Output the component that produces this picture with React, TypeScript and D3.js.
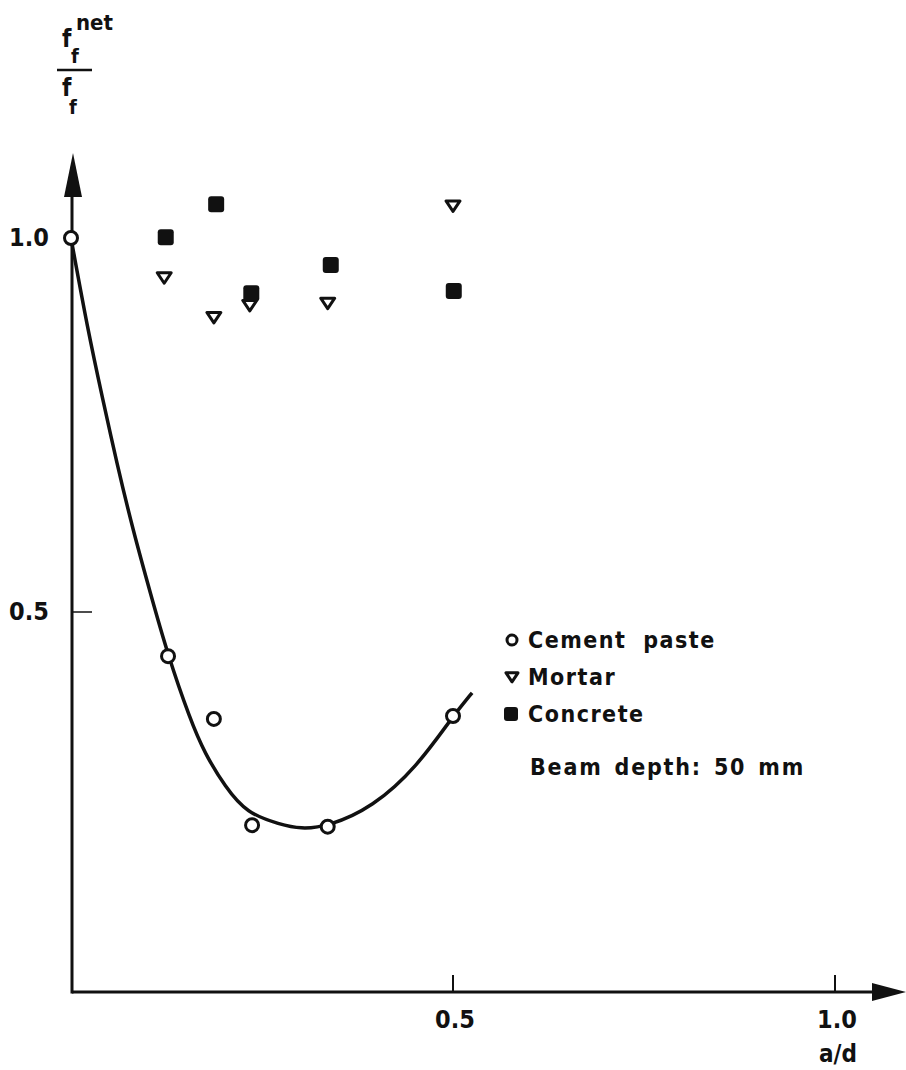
import { scaleLinear, line, curveBasis } from 'd3'

// a/d positions and f_f^net / f_f ratios
const PASTE_AD = [0, 0.127, 0.187, 0.237, 0.336, 0.5]
const PASTE_R = [1.0, 0.441, 0.357, 0.215, 0.213, 0.361]

const MORTAR_AD = [0.122, 0.187, 0.234, 0.336, 0.5]
const MORTAR_R = [0.947, 0.894, 0.91, 0.913, 1.043]

const CONCRETE_AD = [0.124, 0.19, 0.236, 0.34, 0.501]
const CONCRETE_R = [1.001, 1.045, 0.926, 0.964, 0.929]

// hand-drawn fit through the cement paste results
const FIT_AD = [0, 0.022, 0.041, 0.06, 0.081, 0.104, 0.126, 0.156, 0.175, 0.202, 0.23, 0.274, 0.3, 0.336, 0.395, 0.453, 0.5, 0.525]
const FIT_R = [1.0, 0.877, 0.787, 0.699, 0.61, 0.525, 0.445, 0.356, 0.311, 0.266, 0.231, 0.216, 0.21, 0.213, 0.239, 0.293, 0.361, 0.392]

const X_TICKS = [0.5, 1.0]
const Y_TICKS = [0.5, 1.0]
const LEGEND = ['Cement paste', 'Mortar', 'Concrete']

const W = 906
const H = 1070
const AX_X = 72
const AX_Y = 992
const FONT = '"DejaVu Sans Condensed", "DejaVu Sans", sans-serif'
const INK = '#111'

const x = scaleLinear().domain([0, 1]).range([71, 835])
const y = scaleLinear().domain([0, 1]).range([986, 238])

const tri = (cx: number, cy: number, s: number) =>
  `M${cx - s},${cy - s * 0.7}L${cx + s},${cy - s * 0.7}L${cx},${cy + s * 0.8}Z`

function Circle({ cx, cy, r }: { cx: number; cy: number; r: number }) {
  return <circle cx={cx} cy={cy} r={r} fill="#fff" stroke={INK} strokeWidth={3} />
}

function Tri({ cx, cy, s }: { cx: number; cy: number; s: number }) {
  return <path d={tri(cx, cy, s)} fill="#fff" stroke={INK} strokeWidth={3} strokeLinejoin="round" />
}

function Square({ cx, cy, s }: { cx: number; cy: number; s: number }) {
  return <rect x={cx - s / 2} y={cy - s / 2} width={s} height={s} rx={3} fill={INK} />
}

export default function App() {
  const fit = line<number>()
    .x((d) => x(d))
    .y((_, i) => y(FIT_R[i]))
    .curve(curveBasis)(FIT_AD)

  const legX = 512
  const legY = [640, 677, 714]

  return (
    <div style={{ position: 'absolute', left: 0, top: 0 }}>
      <svg width={W} height={H} viewBox={`0 0 ${W} ${H}`} style={{ display: 'block', background: '#fff' }}>
        {/* axes */}
        <line x1={AX_X} y1={AX_Y} x2={880} y2={AX_Y} stroke={INK} strokeWidth={3} />
        <path d={`M${W},${AX_Y}L${872},${AX_Y - 9}L${872},${AX_Y + 9}Z`} fill={INK} />
        <line x1={AX_X} y1={AX_Y + 1.5} x2={AX_X} y2={190} stroke={INK} strokeWidth={3} />
        <path d={`M${AX_X + 1},153L${AX_X + 10},197L${AX_X - 8},197Z`} fill={INK} />

        {X_TICKS.map((t) => (
          <g key={t}>
            <line x1={x(t)} y1={AX_Y} x2={x(t)} y2={AX_Y - 17} stroke={INK} strokeWidth={2} />
            <text x={x(t) + 2} y={1028} textAnchor="middle" fontFamily={FONT} fontWeight="bold" fontSize={25} fill={INK}>
              {t.toFixed(1)}
            </text>
          </g>
        ))}
        <text x={838} y={1062} textAnchor="middle" fontFamily={FONT} fontWeight="bold" fontSize={24} fill={INK}>
          a/d
        </text>

        {Y_TICKS.map((t) => (
          <g key={t}>
            {t !== 1 && <line x1={AX_X} y1={y(t)} x2={AX_X + 20} y2={y(t)} stroke={INK} strokeWidth={1.5} />}
            <text x={29} y={y(t) + 8} textAnchor="middle" fontFamily={FONT} fontWeight="bold" fontSize={25} fill={INK}>
              {t.toFixed(1)}
            </text>
          </g>
        ))}

        {/* y label: f_f^net / f_f */}
        <g fontFamily={FONT} fontWeight="bold" fill={INK}>
          <text x={62} y={47} fontSize={24}>f</text>
          <text x={71} y={63} fontSize={20}>f</text>
          <text x={76} y={30} fontSize={22}>net</text>
          <line x1={57} y1={70} x2={92} y2={70} stroke={INK} strokeWidth={2.5} />
          <text x={62} y={96} fontSize={24}>f</text>
          <text x={69} y={114} fontSize={20}>f</text>
        </g>

        {/* fitted curve */}
        <path d={fit ?? ''} fill="none" stroke={INK} strokeWidth={3.5} />

        {CONCRETE_AD.map((a, i) => (
          <Square key={`c${i}`} cx={x(a)} cy={y(CONCRETE_R[i])} s={16} />
        ))}
        {MORTAR_AD.map((a, i) => (
          <Tri key={`m${i}`} cx={x(a)} cy={y(MORTAR_R[i])} s={7} />
        ))}
        {PASTE_AD.map((a, i) => (
          <Circle key={`p${i}`} cx={x(a)} cy={y(PASTE_R[i])} r={6.5} />
        ))}

        {/* legend */}
        <Circle cx={legX} cy={legY[0]} r={5} />
        <Tri cx={legX} cy={legY[1]} s={6} />
        <Square cx={legX - 1} cy={legY[2]} s={14} />
        {LEGEND.map((s, i) => (
          <text key={s} x={528} y={legY[i] + 8} fontFamily={FONT} fontWeight="bold" fontSize={23} letterSpacing={1.5} wordSpacing={8} fill={INK}>
            {s}
          </text>
        ))}
        <text x={530} y={775} fontFamily={FONT} fontWeight="bold" fontSize={23} letterSpacing={1.8} wordSpacing={3} fill={INK}>
          Beam depth: 50 mm
        </text>
      </svg>
    </div>
  )
}
